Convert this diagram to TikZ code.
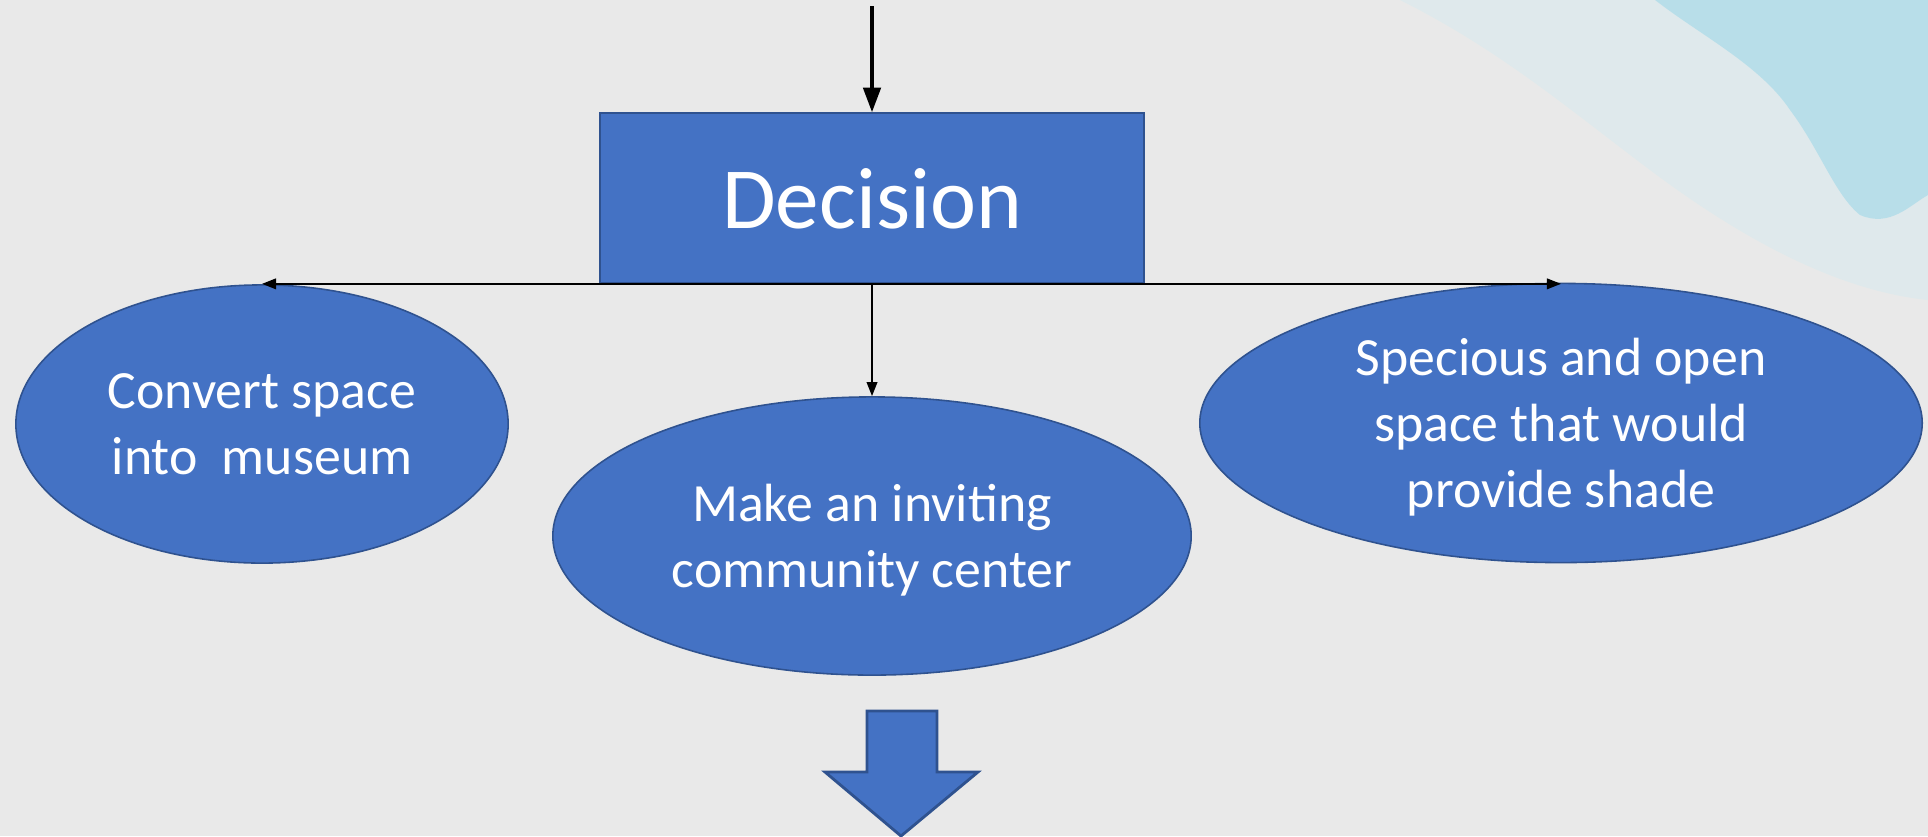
\documentclass[tikz,border=0pt]{standalone}
\usepackage{fontspec}
\setmainfont{Carlito}
\usetikzlibrary{shapes.geometric,arrows.meta,calc}
\definecolor{bgGray}{RGB}{233,233,233}
\definecolor{wcLight}{RGB}{223,233,236}
\definecolor{wcTeal}{RGB}{178,221,233}
\definecolor{boxFill}{RGB}{68,114,196}
\definecolor{boxEdge}{RGB}{47,82,143}
\tikzset{
  blueshape/.style={fill=boxFill, draw=boxEdge, line width=0.45pt, text=white, inner sep=0pt},
  decbox/.style={blueshape, rectangle, minimum width=5.44cm, minimum height=1.70cm, font=\fontsize{24.8}{30}\selectfont},
  optell/.style={blueshape, ellipse, align=center, font=\fontsize{15.3}{18.8}\selectfont},
  bigtip/.style={-{Triangle[length=7pt,width=5pt]}, line width=0.9pt},
  smalltip/.style={-{Triangle[length=4pt,width=3pt]}, line width=0.55pt},
}
\begin{document}
\begin{tikzpicture}[x=0.01cm,y=-0.01cm]
\useasboundingbox (0,0) rectangle (1928,836);
% background
\fill[bgGray] (0,0) rectangle (1928,836);
\fill[wcLight] (1400,0) .. controls (1500,50) and (1570,110) .. (1650,170)
  .. controls (1730,230) and (1830,290) .. (1928,300) -- (1928,0) -- cycle;
\fill[wcTeal, opacity=0.85] (1655,0) .. controls (1700,35) and (1760,65) .. (1790,110)
  .. controls (1820,150) and (1835,195) .. (1860,215)
  .. controls (1890,228) and (1910,205) .. (1928,195) -- (1928,0) -- cycle;
% nodes
\node[decbox, text depth=-0.15cm] (dec) at (872,198) {Decision};
\node[optell, text depth=-0.19cm, minimum width=4.92cm, minimum height=2.78cm] (left) at (262,424) {Convert space\\into\ \ museum};
\node[optell, text depth=-0.06cm, minimum width=6.38cm, minimum height=2.78cm] (mid) at (872,536) {Make an inviting\\community center};
\node[optell, text depth=-0.07cm, minimum width=7.22cm, minimum height=2.79cm] (right) at (1561,423) {Specious and open\\space that would\\provide shade};
\coordinate (topin) at (872,6);
% connectors
\draw[bigtip] (topin) -- (dec.north);
\draw[smalltip] (dec.south) -- (left.north |- dec.south);
\draw[smalltip] (dec.south) -- (right.north |- dec.south);
\draw[smalltip] (dec.south) -- (mid.north);
% block arrow
\coordinate (ba) at (902,711);
\draw[blueshape, line width=0.8pt, line join=miter]
  ($(ba)+(-35,0)$) -- ($(ba)+(35,0)$) -- ($(ba)+(35,61)$) -- ($(ba)+(76,61)$)
  -- ($(ba)+(-1,125)$) -- ($(ba)+(-77,61)$) -- ($(ba)+(-35,61)$) -- cycle;
\end{tikzpicture}
\end{document}
